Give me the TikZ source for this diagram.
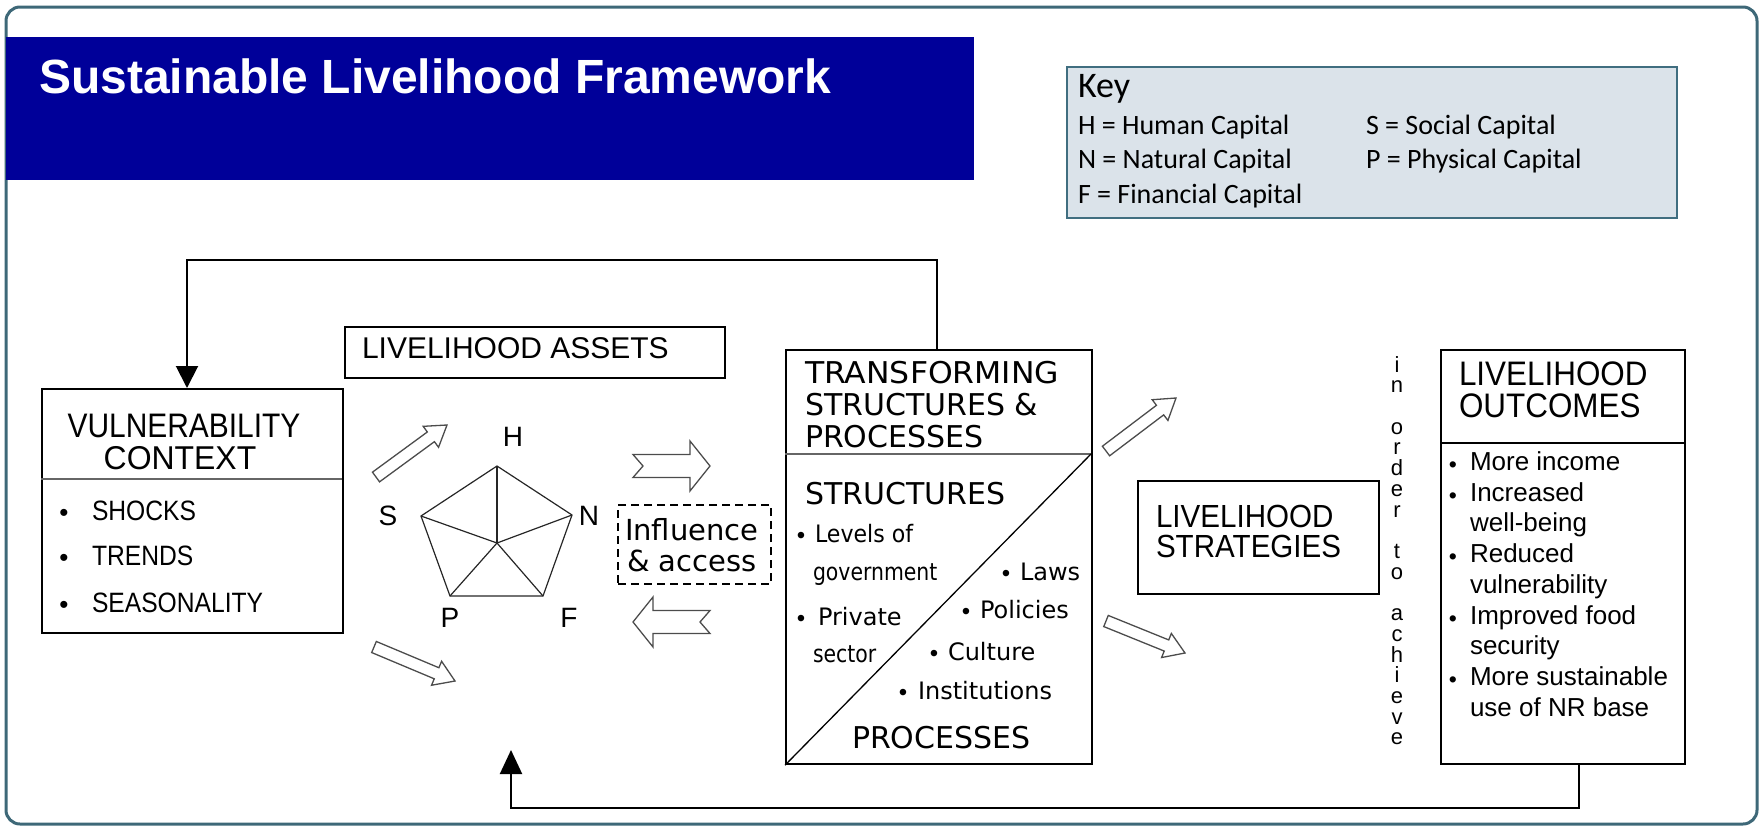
\documentclass[tikz,border=0pt]{standalone}
\usepackage{fontspec}
\setmainfont{Liberation Sans}
\newfontfamily\condfont[FakeStretch=0.88]{Liberation Sans}
\newfontfamily\keyfont{Carlito}
\newfontfamily\dvfont{DejaVu Sans}
\newfontfamily\dvcondfont[FakeStretch=0.85]{DejaVu Sans}
\usetikzlibrary{calc,arrows.meta}
\definecolor{titleblue}{RGB}{0,0,153}
\definecolor{framecol}{RGB}{62,104,120}
\definecolor{keyfill}{RGB}{219,227,234}
\definecolor{keyborder}{RGB}{64,110,128}
\tikzset{
  box/.style={draw=black, line width=2.2pt, inner sep=0pt, anchor=north west},
  txt/.style={inner sep=0pt, outer sep=0pt},
  fb/.style={draw=black, line width=2pt},
  hollow/.style={draw=black!70, line width=1.3pt, fill=white, line join=miter},
  pent/.style={draw=black!85, line width=1.2pt},
  vt/.style={txt, anchor=base, font=\fontsize{22}{22}\selectfont},
}
\newcommand{\hollowarrow}[6]{%
  \coordinate (hc) at ($(#2)!#5!(#1)$);
  \coordinate (hn) at ($(#1)!#6!(#2)$);
  \draw[hollow] ($(#1)!#3!90:(#2)$) -- ($(hc)!#3!90:(#2)$) -- ($(hc)!#4!90:(#2)$) -- (#2) -- ($(hc)!#4!-90:(#2)$) -- ($(hc)!#3!-90:(#2)$) -- ($(#1)!#3!-90:(#2)$) -- (hn) -- cycle;
}
\newcommand{\bul}[3]{\node[txt, anchor=base] at (#1,#2) {\fontsize{#3}{#3}\selectfont •};}
\begin{document}
\begin{tikzpicture}[x=1pt,y=-1pt]
\useasboundingbox (0,0) rectangle (1760,827);
% outer frame
\draw[framecol, line width=3pt, rounded corners=14pt] (6,7) rectangle (1757,824);
% title
\fill[titleblue] (6,37) rectangle (974,180);
\node[txt, anchor=base west, text=white, font=\bfseries\fontsize{48}{48}\selectfont] (title) at (39,93) {Sustainable Livelihood Framework};
% key
\node[draw=keyborder, fill=keyfill, line width=2pt, inner sep=0pt, anchor=north west, minimum width=610pt, minimum height=151pt] (key) at (1066,66) {};
\node[txt, anchor=base west, font=\keyfont\fontsize{36}{36}\selectfont] (keyt) at (1078,97) {Key};
\begin{scope}[every node/.style={txt, anchor=base west, font=\keyfont\fontsize{28}{28}\selectfont}]
\node (kh) at (1078,134) {H = Human Capital};
\node (kn) at (1078,168) {N = Natural Capital};
\node (kf) at (1078,203) {F = Financial Capital};
\node (ks) at (1366,134) {S = Social Capital};
\node (kp) at (1366,168) {P = Physical Capital};
\end{scope}
% vulnerability context
\node[box, minimum width=301pt, minimum height=244pt] (vul) at (41,388) {};
\draw[black!60, line width=2pt] (41,479) -- (342,479);
\node[txt, anchor=base, font=\condfont\fontsize{34}{34}\selectfont] (vul1) at (184,437) {VULNERABILITY};
\node[txt, anchor=base, font=\condfont\fontsize{33}{33}\selectfont, xscale=1.1] (vul2) at (180,469) {CONTEXT};
\begin{scope}[every node/.append style={txt, anchor=base west, font=\condfont\fontsize{28}{28}\selectfont}]
\node (sh) at (92,520) {SHOCKS};
\node (tr) at (92,565) {TRENDS};
\node (se) at (92,612) {SEASONALITY};
\end{scope}
\bul{64}{521}{26}\bul{64}{566}{26}\bul{64}{613}{26}
% livelihood assets
\node[box, minimum width=380pt, minimum height=51pt] (assets) at (344,326) {};
\node[txt, anchor=base west, font=\fontsize{30}{30}\selectfont] (assetst) at (362,358) {LIVELIHOOD ASSETS};
% pentagon
\coordinate (pH) at (497,466);
\coordinate (pN) at (572,515);
\coordinate (pF) at (543,596);
\coordinate (pP) at (450,596);
\coordinate (pS) at (421,516);
\coordinate (pC) at (497,543);
\draw[pent] (pH) -- (pN) -- (pF) -- (pP) -- (pS) -- cycle;
\foreach \v in {pH,pN,pF,pP,pS} \draw[pent] (pC) -- (\v);
\begin{scope}[every node/.append style={txt, font=\fontsize{28}{28}\selectfont}]
\node (lH) at (513,437) {H};
\node (lN) at (589,516) {N};
\node (lS) at (388,516) {S};
\node (lP) at (450,618) {P};
\node (lF) at (569,618) {F};
\end{scope}
% influence & access
\node[draw=black, dashed, dash pattern=on 8pt off 5pt, line width=2pt, inner sep=0pt, anchor=north west, minimum width=153pt, minimum height=79pt] (infl) at (617,504) {};
\node[txt, anchor=base west, font=\dvfont\fontsize{29}{29}\selectfont] (infl1) at (625,540) {Influence};
\node[txt, anchor=base west, font=\dvfont\fontsize{29}{29}\selectfont] (infl2) at (627,571) {\& access};
% hollow arrows
\coordinate (a1t) at (376,477); \coordinate (a1h) at (447,425);
\coordinate (a2t) at (374,647); \coordinate (a2h) at (455,681);
\coordinate (a3t) at (633,466); \coordinate (a3h) at (710,466);
\coordinate (a4t) at (710,622); \coordinate (a4h) at (633,622);
\coordinate (a5t) at (1106,451); \coordinate (a5h) at (1176,398);
\coordinate (a6t) at (1106,621); \coordinate (a6h) at (1185,653);
\hollowarrow{a1t}{a1h}{6pt}{13pt}{20pt}{0pt}
\hollowarrow{a2t}{a2h}{6pt}{13pt}{20pt}{0pt}
\hollowarrow{a3t}{a3h}{11.5pt}{25pt}{20pt}{10pt}
\hollowarrow{a4t}{a4h}{11.5pt}{25pt}{20pt}{10pt}
\hollowarrow{a5t}{a5h}{6pt}{13pt}{20pt}{0pt}
\hollowarrow{a6t}{a6h}{6pt}{13pt}{20pt}{0pt}
% transforming structures
\node[box, minimum width=306pt, minimum height=414pt] (trans) at (785,349) {};
\draw[black!60, line width=2pt] (785,454) -- (1091,454);
\draw[black, line width=1.3pt] (trans.south west) -- (1091,454);
\begin{scope}[every node/.append style={txt, anchor=base west, font=\dvfont\fontsize{30}{30}\selectfont}]
\node[xscale=1.05] (t1) at (805,383) {TRANSFORMING};
\node (t2) at (805,415) {STRUCTURES \&};
\node (t3) at (805,447) {PROCESSES};
\node (t4) at (805,504) {STRUCTURES};
\node (t5) at (852,748) {PROCESSES};
\end{scope}
\begin{scope}[every node/.append style={txt, anchor=base west, font=\dvfont\fontsize{24}{24}\selectfont}]
\node[xscale=0.92] (b1) at (815,542) {Levels of};
\node (b3) at (818,625) {Private};
\node (b5) at (1020,580) {Laws};
\node (b6) at (980,618) {Policies};
\node (b7) at (948,660) {Culture};
\node (b8) at (918,699) {Institutions};
\end{scope}
\node[txt, anchor=base west, font=\dvcondfont\fontsize{24}{24}\selectfont] (b2) at (813,580) {government};
\node[txt, anchor=base west, font=\dvcondfont\fontsize{24}{24}\selectfont] (b4) at (813,662) {sector};
\bul{801}{543}{24}\bul{801}{626}{24}\bul{1006}{581}{24}\bul{966}{619}{24}\bul{934}{661}{24}\bul{903}{700}{24}
% livelihood strategies
\node[box, minimum width=241pt, minimum height=113pt] (strat) at (1137,480) {};
\node[txt, anchor=base west, font=\condfont\fontsize{32}{32}\selectfont, xscale=1.05] (st1) at (1156,527) {LIVELIHOOD};
\node[txt, anchor=base west, font=\condfont\fontsize{32}{32}\selectfont, xscale=1.05] (st2) at (1156,557) {STRATEGIES};
% in order to achieve
\foreach \ch [count=\k from 0] in {i,n,{},o,r,d,e,r,{},t,o,{},a,c,h,i,e,v,e}
  \node[vt] (v\k) at (1397,372+20.72*\k) {\ch};
% livelihood outcomes
\node[box, minimum width=244pt, minimum height=414pt] (outc) at (1440,349) {};
\draw[black, line width=2pt] (1440,443) -- (1684,443);
\node[txt, anchor=base west, font=\condfont\fontsize{34}{34}\selectfont, xscale=1.05] (o1) at (1459,385) {LIVELIHOOD};
\node[txt, anchor=base west, font=\condfont\fontsize{34}{34}\selectfont, xscale=1.05] (o2) at (1459,417) {OUTCOMES};
\begin{scope}[every node/.append style={txt, anchor=base west, font=\fontsize{26}{26}\selectfont}]
\node (oc1) at (1470,470) {More income};
\node (oc2) at (1470,501) {Increased};
\node (oc3) at (1470,531) {well-being};
\node (oc4) at (1470,562) {Reduced};
\node (oc5) at (1470,593) {vulnerability};
\node (oc6) at (1470,624) {Improved food};
\node (oc7) at (1470,654) {security};
\node (oc8) at (1470,685) {More sustainable};
\node (oc9) at (1470,716) {use of NR base};
\end{scope}
\bul{1453}{472}{23}\bul{1453}{503}{23}\bul{1453}{564}{23}\bul{1453}{626}{23}\bul{1453}{687}{23}
% feedback loops
\coordinate (ttop) at (937,349);
\coordinate (vtop) at (187,388);
\draw[fb, -{Triangle[width=22pt,length=22pt]}] (ttop) -- ++(0,-89) -| (vtop);
\coordinate (obot) at (1579,763);
\coordinate (atip) at (511,750);
\draw[fb, -{Triangle[width=22pt,length=24pt]}] (obot) -- ++(0,45) -| (atip);
\end{tikzpicture}
\end{document}
